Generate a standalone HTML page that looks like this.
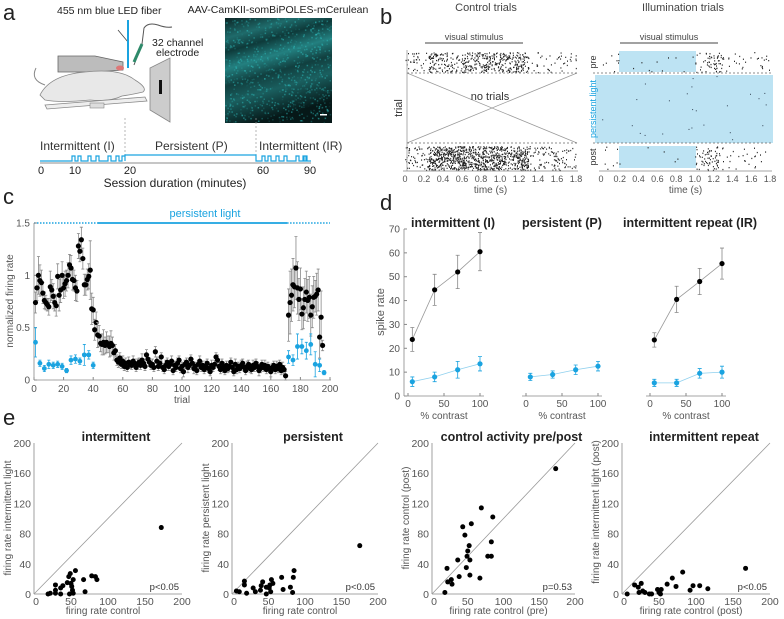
<!DOCTYPE html>
<html><head><meta charset="utf-8"><style>
html,body{margin:0;padding:0;background:#fff;}
svg{display:block;font-family:"Liberation Sans",Arial,sans-serif;}
</style></head><body>
<svg id="fig" width="784" height="619" viewBox="0 0 784 619" xmlns="http://www.w3.org/2000/svg">
<!-- panel letters -->
<text x="3" y="20" font-size="22" fill="#222">a</text>
<text x="380" y="24" font-size="22" fill="#222">b</text>
<text x="3" y="204" font-size="22" fill="#222">c</text>
<text x="380" y="210" font-size="22" fill="#222">d</text>
<text x="3" y="425" font-size="22" fill="#222">e</text>

<!-- panel a illustration -->
<g>
<text x="57" y="14" font-size="10.5" fill="#222">455 nm blue LED fiber</text>
<line x1="118" y1="30" x2="128" y2="42" stroke="#444" stroke-width="0.8"/>
<line x1="128" y1="20" x2="128" y2="68" stroke="#1aa3e0" stroke-width="2"/>
<path d="M134 65 L142 44 L144 28 Q148 22 158 25 Q166 28 172 27" stroke="#555" fill="none" stroke-width="1"/>
<line x1="134" y1="62" x2="142" y2="44" stroke="#2e8a6a" stroke-width="3"/>
<text x="152" y="46" font-size="10.5" fill="#222">32 channel</text>
<text x="156" y="56" font-size="10.5" fill="#222">electrode</text>
<path d="M58 56 L95 56 L123 62 L123 70 L95 72 L58 72 Z" fill="#bcbcbc" stroke="#666" stroke-width="0.8"/>
<path d="M40 95 Q50 75 85 72 Q120 68 135 80 Q148 88 143 92 Q130 95 122 96 Q110 102 90 100 Q60 103 45 100 Z" fill="#e8e8e8" stroke="#888" stroke-width="0.8"/>
<path d="M45 85 Q30 80 36 68" stroke="#888" fill="none"/>
<ellipse cx="120" cy="68" rx="4" ry="2.5" fill="#d77"/>
<path d="M45 105 L145 97 L147 101 L47 109 Z" fill="#eee" stroke="#888" stroke-width="0.8"/>
<rect x="90" y="103" width="14" height="5" fill="#ddd" stroke="#888" stroke-width="0.6"/>
<path d="M150 68 L170 58 L170 122 L150 110 Z" fill="#ccc" stroke="#888" stroke-width="0.8"/>
<rect x="159" y="80" width="3" height="14" fill="#111"/>
</g>
<g>
<text x="278" y="13" font-size="10.5" fill="#222" text-anchor="middle">AAV-CamKII-somBiPOLES-mCerulean</text>
<defs><linearGradient id="mg" x1="0" y1="0" x2="0.3" y2="1">
<stop offset="0" stop-color="#0a2424"/><stop offset="0.18" stop-color="#1f6b6b"/><stop offset="0.3" stop-color="#0e3a3a"/>
<stop offset="0.45" stop-color="#238080"/><stop offset="0.6" stop-color="#113f3f"/><stop offset="0.75" stop-color="#1a5f5f"/><stop offset="1" stop-color="#061818"/></linearGradient></defs>
<rect x="225" y="18" width="107" height="105" fill="url(#mg)"/>
<g id="micro-noise"></g>
<rect x="320" y="114" width="7" height="1.5" fill="#fff"/>
</g>
<g>
<text x="40" y="150" font-size="12" fill="#333">Intermittent (I)</text>
<text x="155" y="150" font-size="12" fill="#333">Persistent (P)</text>
<text x="259" y="150" font-size="12" fill="#333">Intermittent (IR)</text>
<line x1="125" y1="118" x2="125" y2="160" stroke="#999" stroke-dasharray="2,2" stroke-width="0.7"/>
<line x1="256" y1="118" x2="256" y2="160" stroke="#999" stroke-dasharray="2,2" stroke-width="0.7"/>
<path id="tl-path" stroke="#1aa3e0" fill="none" stroke-width="1.2"/>
<line x1="40" y1="163" x2="311" y2="163" stroke="#666" stroke-width="0.8"/>
<text x="41" y="174" font-size="11" fill="#222" text-anchor="middle">0</text>
<text x="75" y="174" font-size="11" fill="#222" text-anchor="middle">10</text>
<text x="130" y="174" font-size="11" fill="#222" text-anchor="middle">20</text>
<text x="263" y="174" font-size="11" fill="#222" text-anchor="middle">60</text>
<text x="310" y="174" font-size="11" fill="#222" text-anchor="middle">90</text>
<text x="175" y="187" font-size="12" fill="#222" text-anchor="middle">Session duration (minutes)</text>
</g>

<!-- panel b -->
<g id="panel-b">
<text x="486" y="11" font-size="11" fill="#444" text-anchor="middle">Control trials</text>
<text x="683" y="11" font-size="11" fill="#444" text-anchor="middle">Illumination trials</text>
<line x1="425" y1="43" x2="523" y2="43" stroke="#444" stroke-width="1"/>
<text x="474" y="40" font-size="9" fill="#444" text-anchor="middle">visual stimulus</text>
<line x1="620" y1="43" x2="718" y2="43" stroke="#444" stroke-width="1"/>
<text x="669" y="40" font-size="9" fill="#444" text-anchor="middle">visual stimulus</text>
<rect x="619" y="51" width="77" height="21" fill="#bde3f3"/>
<rect x="595" y="75" width="178" height="68" fill="#bde3f3"/>
<rect x="619" y="146" width="77" height="22" fill="#bde3f3"/>
<g id="raster-dots"></g>
<line x1="407" y1="73" x2="577" y2="143" stroke="#999" stroke-width="0.8"/>
<line x1="407" y1="143" x2="577" y2="73" stroke="#999" stroke-width="0.8"/>
<text x="490" y="100" font-size="11" fill="#333" text-anchor="middle">no trials</text>
<line x1="407" y1="73" x2="577" y2="73" stroke="#666" stroke-dasharray="2,2" stroke-width="0.8"/>
<line x1="593" y1="73" x2="773" y2="73" stroke="#666" stroke-dasharray="2,2" stroke-width="0.8"/>
<line x1="407" y1="143" x2="577" y2="143" stroke="#666" stroke-dasharray="2,2" stroke-width="0.8"/>
<line x1="593" y1="143" x2="773" y2="143" stroke="#666" stroke-dasharray="2,2" stroke-width="0.8"/>
<line x1="407" y1="50" x2="407" y2="171" stroke="#999" stroke-width="0.8"/>
<text transform="translate(402,108) rotate(-90)" font-size="11" fill="#333" text-anchor="middle">trial</text>
<text transform="translate(596,62) rotate(-90)" font-size="9" fill="#333" text-anchor="middle">pre</text>
<text transform="translate(596,109) rotate(-90)" font-size="9" fill="#1aa3e0" text-anchor="middle">persistent light</text>
<text transform="translate(596,157) rotate(-90)" font-size="9" fill="#333" text-anchor="middle">post</text>
<g id="b-axes"></g>
</g>

<!-- panel c -->
<g id="panel-c">
<text x="205" y="217" font-size="11" fill="#1aa3e0" text-anchor="middle">persistent light</text>
<g id="c-chart"></g>
</g>
<g id="panel-d"></g>
<g id="panel-e"></g>
</svg>
<script>
const NS="http://www.w3.org/2000/svg";
function mk(parent,tag,attrs,txt){const e=document.createElementNS(NS,tag);for(const k in attrs)e.setAttribute(k,attrs[k]);if(txt!==undefined)e.textContent=txt;parent.appendChild(e);return e;}
function lin(d0,d1,r0,r1){return v=>r0+(v-d0)*(r1-r0)/(d1-d0);}
const GRAY="#555", BLUE="#1aa3e0";

// ---------- texture: microscopy & raster (seeded, decorative) ----------
let seed=7;function rnd(){seed=(seed*16807)%2147483647;return seed/2147483647;}
const mn=document.getElementById('micro-noise');
for(let i=0;i<900;i++){const x=225+rnd()*106,y=18+rnd()*104;mk(mn,'rect',{x:x.toFixed(1),y:y.toFixed(1),width:1.5,height:1.5,fill:'#3cc',opacity:(rnd()*0.5).toFixed(2)});}
// timeline
(function(){
  const pulsesA=[72,78,88,96,108,116,122], pulsesB=[262,268,276,284,296,303,310-6];
  let d="M40 161 ";
  pulsesA.forEach(p=>{d+=`L${p} 161 L${p} 156 L${p+3} 156 L${p+3} 161 `;});
  d+="L125 161 L125 155 L256 155 L256 161 ";
  pulsesB.forEach(p=>{d+=`L${p} 161 L${p} 156 L${p+3} 156 L${p+3} 161 `;});
  d+="L311 161";
  document.getElementById('tl-path').setAttribute('d',d);
})();
// raster texture
const rd=document.getElementById('raster-dots');
function rasterBlock(x0,x1,y0,y1,n,dense0,dense1,densX0,densX1){
  for(let i=0;i<n;i++){
    let t=rnd()*1.8;
    if(rnd()<0.65) t=0.25+rnd()*1.05;
    if(densX0!==undefined && t>densX0 && t<densX1 && rnd()<0.97) continue;
    const x=x0+t*(x1-x0)/1.8,y=y0+rnd()*(y1-y0);
    mk(rd,'rect',{x:x.toFixed(1),y:y.toFixed(1),width:1,height:1.3,fill:'#222'});
  }
}
rasterBlock(405,576,52,72,500);
rasterBlock(405,576,146,170,1100);
rasterBlock(601,770,52,72,260,0,0,0.2,1.0);
rasterBlock(601,770,146,170,300,0,0,0.2,1.0);
for(let i=0;i<25;i++){mk(rd,'rect',{x:(597+rnd()*175).toFixed(1),y:(76+rnd()*66).toFixed(1),width:1,height:1,fill:'#345'});}
// b axes
const bAx=document.getElementById('b-axes');
const bTicks=[0,0.2,0.4,0.6,0.8,1.0,1.2,1.4,1.6,1.8];
[[405,576],[601,770]].forEach(([a,b],k)=>{
  const sx=lin(0,1.8,a,b);
  mk(bAx,'line',{x1:a-2,y1:171,x2:b+2,y2:171,stroke:'#888','stroke-width':0.8});
  bTicks.forEach(t=>{mk(bAx,'text',{x:sx(t),y:182,'font-size':9,fill:GRAY,'text-anchor':'middle'},t===0?'0':t.toFixed(1));});
  mk(bAx,'text',{x:(a+b)/2,y:193,'font-size':10,fill:GRAY,'text-anchor':'middle'},'time (s)');
});

// ---------- panel c data ----------
const blackEarly=[0.74,0.88,1.0,0.95,0.93,0.83,0.76,0.74,0.72,0.70,0.89,0.86,0.80,0.74,0.71,0.99,0.81,0.86,1.0,0.88,0.92,0.95,1.0,1.1,1.07,0.96,0.95,0.88,0.85,1.28,1.23,1.34,1.16,0.91,0.91,0.96,0.99,1.05,0.68,0.67,0.48,0.55];
const blackEarlyErr=[0.1,0.12,0.18,0.15,0.12,0.1,0.08,0.07,0.06,0.08,0.15,0.1,0.12,0.08,0.1,0.12,0.15,0.12,0.13,0.1,0.12,0.1,0.12,0.1,0.12,0.1,0.1,0.12,0.1,0.12,0.1,0.12,0.1,0.1,0.1,0.1,0.12,0.28,0.15,0.12,0.1,0.1];
const blackMid=[0.43,0.42,0.35,0.34,0.36,0.33,0.36,0.34,0.32,0.35,0.33,0.26,0.28,0.19,0.17,0.21,0.15,0.18,0.13,0.16,0.12,0.17,0.15,0.14,0.18,0.16,0.12,0.15,0.17,0.14,0.19,0.16,0.13,0.24,0.2,0.17,0.14,0.15,0.12,0.27,0.18,0.13,0.16,0.22,0.12,0.1,0.14,0.17,0.13,0.15,0.18,0.09,0.14,0.12,0.16,0.19,0.11,0.13,0.08,0.15,0.17,0.12,0.14,0.2,0.16,0.11,0.13,0.09,0.15,0.18,0.12,0.14,0.1,0.13,0.16,0.11,0.08,0.14,0.12,0.15,0.22,0.19,0.13,0.1,0.16,0.12,0.09,0.14,0.11,0.13,0.17,0.12,0.08,0.15,0.1,0.13,0.11,0.14,0.16,0.12,0.09,0.13,0.15,0.11,0.1,0.14,0.12,0.16,0.13,0.09,0.11,0.15,0.12,0.14,0.1,0.13,0.11,0.08,0.12,0.14,0.1,0.13,0.11,0.15,0.09,0.12,0.1,0.04];
const blackMidErr=[0.12,0.1,0.08,0.1,0.12,0.08,0.1,0.08,0.1,0.12,0.08,0.07,0.06,0.05,0.05,0.05,0.04,0.05,0.04,0.05,0.04,0.05,0.04,0.04,0.05,0.04,0.04,0.05,0.04,0.04,0.06,0.04,0.04,0.05,0.04,0.04,0.04,0.05,0.04,0.05,0.04,0.04,0.05,0.04,0.04,0.04,0.05,0.04,0.04,0.04,0.05,0.04,0.04,0.04,0.05,0.04,0.04,0.04,0.05,0.04,0.04,0.05,0.04,0.04,0.04,0.05,0.04,0.04,0.04,0.05,0.04,0.04,0.04,0.05,0.04,0.04,0.04,0.05,0.04,0.04,0.04,0.05,0.04,0.04,0.04,0.05,0.04,0.04,0.04,0.05,0.04,0.04,0.04,0.05,0.04,0.04,0.04,0.05,0.04,0.04,0.04,0.05,0.04,0.04,0.04,0.05,0.04,0.04,0.04,0.05,0.04,0.04,0.04,0.05,0.04,0.04,0.04,0.05,0.04,0.04,0.04,0.05,0.04,0.04,0.04,0.05,0.04,0.04];
const blackLate=[0.62,0.74,0.81,0.91,0.89,1.07,0.88,0.77,0.87,0.63,0.69,0.77,0.84,0.76,0.79,0.62,0.70,0.79,0.80,0.82,0.86,0.41,0.60,0.33];
const blackLateErr=[0.25,0.3,0.25,0.25,0.2,0.3,0.25,0.2,0.2,0.15,0.2,0.2,0.2,0.2,0.2,0.2,0.2,0.2,0.15,0.2,0.2,0.2,0.25,0.05];
const blueEarly=[0.36,0.16,0.11,0.15,0.14,0.15,0.13,0.09,0.19,0.20,0.18,0.24,0.24,0.14];
const blueEarlyErr=[0.14,0.03,0.03,0.04,0.03,0.03,0.03,0.02,0.04,0.04,0.03,0.1,0.04,0.03];
const blueLate=[0.22,0.19,0.32,0.32,0.28,0.34,0.15,0.14,0.07];
const blueLateErr=[0.06,0.05,0.12,0.07,0.08,0.1,0.12,0.06,0.02];
const cXTicks=[0,20,40,60,80,100,120,140,160,180,200];
const cYTicks=[0,0.5,1,1.5];
(function(){
  const g=document.getElementById('c-chart');
  const sx=lin(0,200,34,330), sy=lin(0,1.5,380,223);
  // persistent light bar
  mk(g,'line',{x1:sx(0),y1:sy(1.5),x2:sx(43),y2:sy(1.5),stroke:BLUE,'stroke-width':1.4,'stroke-dasharray':'1.5,1.5'});
  mk(g,'line',{x1:sx(43),y1:sy(1.5),x2:sx(171),y2:sy(1.5),stroke:BLUE,'stroke-width':1.8});
  mk(g,'line',{x1:sx(171),y1:sy(1.5),x2:sx(200),y2:sy(1.5),stroke:BLUE,'stroke-width':1.4,'stroke-dasharray':'1.5,1.5'});
  mk(g,'line',{x1:34,y1:223,x2:34,y2:380,stroke:'#888','stroke-width':0.8});
  mk(g,'line',{x1:34,y1:380,x2:331,y2:380,stroke:'#888','stroke-width':0.8});
  cYTicks.forEach(t=>{mk(g,'line',{x1:34,y1:sy(t),x2:37,y2:sy(t),stroke:'#888'});mk(g,'text',{x:30,y:sy(t)+3.5,'font-size':10,fill:GRAY,'text-anchor':'end'},String(t));});
  cXTicks.forEach(t=>{mk(g,'line',{x1:sx(t),y1:380,x2:sx(t),y2:377,stroke:'#888'});mk(g,'text',{x:sx(t),y:392,'font-size':10,fill:GRAY,'text-anchor':'middle'},String(t));});
  mk(g,'text',{x:182,y:403,'font-size':10,fill:GRAY,'text-anchor':'middle'},'trial');
  mk(g,'text',{transform:'translate(13,301) rotate(-90)','font-size':10,fill:GRAY,'text-anchor':'middle'},'normalized firing rate');
  function series(vals,errs,start,step,col,ecol,r,name){
    vals.forEach((v,i)=>{
      const x=sx(start+i*step), e=errs[i]||0.04;
      const eb=mk(g,'path',{d:`M${x} ${sy(v-e)} L${x} ${sy(v+e)} M${x-1.5} ${sy(v+e)} L${x+1.5} ${sy(v+e)} M${x-1.5} ${sy(v-e)} L${x+1.5} ${sy(v-e)}`,stroke:ecol,'stroke-width':0.8,fill:'none'});
      
      
    });
    vals.forEach((v,i)=>{
      const c=mk(g,'circle',{cx:sx(start+i*step),cy:sy(v),r:r,fill:col});
      
      
    });
  }
  series(blackEarly,blackEarlyErr,1,1,'#000','#888',2.6,'control');
  series(blackMid,blackMidErr,43,1,'#000','#888',2.6,'control');
  series(blackLate,blackLateErr,172,1,'#000','#888',2.6,'control');
  series(blueEarly,blueEarlyErr,1,3,BLUE,BLUE,2.4,'illumination');
  series(blueLate,blueLateErr,172,3,BLUE,BLUE,2.4,'illumination');
})();

// ---------- panel d ----------
const contrast=[6,37,69,100];
const iBlack=[23.7,44.5,52,60.5], iBlackErr=[5,6.5,7,8];
const iBlue=[6,8,11,13.5], iBlueErr=[2,2,3.5,3];
const pBlue=[8,9,11,12.5], pBlueErr=[1.5,1.5,2,2];
const irBlack=[23.5,40.5,48,55.5], irBlackErr=[3,5.5,5.5,6.5];
const irBlue=[5.5,5.5,9.5,10], irBlueErr=[1.5,1.5,2,2.5];
const dYTicks=[0,10,20,30,40,50,60,70];
const dXTicks=[0,50,100];
(function(){
  const g=document.getElementById('panel-d');
  const sy=lin(0,70,396,229);
  const subs=[{x0:408,title:'intermittent (I)',tx:453,series:[[iBlack,iBlackErr,'#000','#888'],[iBlue,iBlueErr,BLUE,BLUE]]},
              {x0:526,title:'persistent (P)',tx:562,series:[[pBlue,pBlueErr,BLUE,BLUE]]},
              {x0:650,title:'intermittent repeat (IR)',tx:690,series:[[irBlack,irBlackErr,'#000','#888'],[irBlue,irBlueErr,BLUE,BLUE]]}];
  subs.forEach((s,k)=>{
    const sx=lin(0,100,s.x0,s.x0+72);
    mk(g,'text',{x:s.tx,y:227,'font-size':12.5,'font-weight':'bold',fill:'#222','text-anchor':'middle'},s.title);
    mk(g,'line',{x1:s.x0-4,y1:396,x2:s.x0+76,y2:396,stroke:'#888','stroke-width':0.8});
    dXTicks.forEach(t=>{mk(g,'line',{x1:sx(t),y1:396,x2:sx(t),y2:393,stroke:'#888'});mk(g,'text',{x:sx(t),y:407,'font-size':10,fill:GRAY,'text-anchor':'middle'},String(t));});
    mk(g,'text',{x:sx(50),y:419,'font-size':10,fill:GRAY,'text-anchor':'middle'},'% contrast');
    if(k===0){
      mk(g,'line',{x1:s.x0-4,y1:229,x2:s.x0-4,y2:396,stroke:'#888','stroke-width':0.8});
      dYTicks.forEach(t=>{mk(g,'line',{x1:s.x0-4,y1:sy(t),x2:s.x0-1,y2:sy(t),stroke:'#888'});mk(g,'text',{x:s.x0-8,y:sy(t)+3.5,'font-size':10,fill:GRAY,'text-anchor':'end'},String(t));});
      mk(g,'text',{transform:`translate(${s.x0-24},312) rotate(-90)`,'font-size':11,fill:GRAY,'text-anchor':'middle'},'spike rate');
    }
    s.series.forEach(([v,e,col,ecol])=>{
      mk(g,'polyline',{points:v.map((y,i)=>sx(contrast[i])+','+sy(y)).join(' '),fill:'none',stroke:col===BLUE?'#8fd0ee':'#999','stroke-width':0.8});
      v.forEach((y,i)=>{
        const x=sx(contrast[i]);
        mk(g,'path',{d:`M${x} ${sy(y-e[i])} L${x} ${sy(y+e[i])} M${x-2} ${sy(y+e[i])} L${x+2} ${sy(y+e[i])} M${x-2} ${sy(y-e[i])} L${x+2} ${sy(y-e[i])}`,stroke:ecol,'stroke-width':0.8,fill:'none'});
        const c=mk(g,'circle',{cx:x,cy:sy(y),r:2.6,fill:col});
        
        
      });
    });
  });
})();

// ---------- panel e ----------
const e1x=[19,22,29,29,36,36,39,45,47,49,48,50,51,52,53,56,53,67,69,78,83,85,172,29];
const e1y=[0,1,5,1,0,8,11,15,23,27,0,14,10,5,1,31,19,19,3,24,23,19,88,12];
const e2x=[6,10,17,17,20,29,32,39,40,42,47,47,51,52,53,54,56,68,70,80,83,84,85,175];
const e2y=[4,3,17,12,1,8,3,5,11,16,9,0,8,12,3,19,14,22,6,9,2,22,31,64];
const e3x=[18,21,22,27,28,36,38,43,46,48,49,50,52,53,53,55,67,69,78,83,83,85,173];
const e3y=[2,34,16,19,13,45,23,89,78,35,50,57,64,45,25,93,21,114,50,50,69,102,166];
const e4x=[7,17,22,23,26,28,31,37,40,48,50,52,53,61,68,73,82,92,96,105,116,167];
const e4y=[0,12,9,2,14,4,2,0,0,6,2,0,6,13,21,10,29,5,11,11,7,34];
const eXTicks=[0,50,100,150,200];
const eYTicks=[0,40,80,120,160,200];
(function(){
  const g=document.getElementById('panel-e');
  const plots=[{x0:34,x1:182,title:'intermittent',xl:'firing rate control',yl:'firing rate intermittent light',p:'p<0.05',xs:e1x,ys:e1y},
               {x0:232,x1:378,title:'persistent',xl:'firing rate control',yl:'firing rate persistent light',p:'p<0.05',xs:e2x,ys:e2y},
               {x0:432,x1:575,title:'control activity pre/post',xl:'firing rate control (pre)',yl:'firing rate control (post)',p:'p=0.53',xs:e3x,ys:e3y},
               {x0:622,x1:770,title:'intermittent repeat',xl:'firing rate control (post)',yl:'firing rate intermittent light (post)',p:'p<0.05',xs:e4x,ys:e4y}];
  const sy=lin(0,200,594,443);
  plots.forEach((p,k)=>{
    const sx=lin(0,200,p.x0,p.x1);
    const pg=mk(g,'g',{});
    
    
    mk(pg,'text',{x:(p.x0+p.x1)/2+8,y:441,'font-size':12.5,'font-weight':'bold',fill:'#222','text-anchor':'middle'},p.title);
    mk(pg,'line',{x1:p.x0,y1:443,x2:p.x0,y2:594,stroke:'#888','stroke-width':0.8});
    mk(pg,'line',{x1:p.x0,y1:594,x2:p.x1,y2:594,stroke:'#888','stroke-width':0.8});
    mk(pg,'line',{x1:sx(0),y1:sy(0),x2:sx(200),y2:sy(200),stroke:'#999','stroke-width':0.8});
    eYTicks.forEach(t=>{mk(pg,'text',{x:p.x0-3,y:sy(t)+4,'font-size':10.5,fill:GRAY,'text-anchor':'end'},String(t));});
    eXTicks.forEach(t=>{mk(pg,'text',{x:sx(t)+(t===0?2:0),y:605,'font-size':10.5,fill:GRAY,'text-anchor':'middle'},String(t));});
    mk(pg,'text',{x:(p.x0+p.x1)/2-5,y:614,'font-size':10,fill:GRAY,'text-anchor':'middle'},p.xl);
    mk(pg,'text',{transform:`translate(${p.x0-23},${k===3?512:518}) rotate(-90)`,'font-size':10,fill:GRAY,'text-anchor':'middle'},p.yl);
    mk(pg,'text',{x:p.x1-3,y:590,'font-size':9.5,fill:'#333','text-anchor':'end'},p.p);
    p.xs.forEach((x,i)=>{
      const c=mk(pg,'circle',{cx:sx(x),cy:sy(p.ys[i]),r:2.5,fill:'#000'});
      
      
    });
  });
})();
</script>
</body></html>
